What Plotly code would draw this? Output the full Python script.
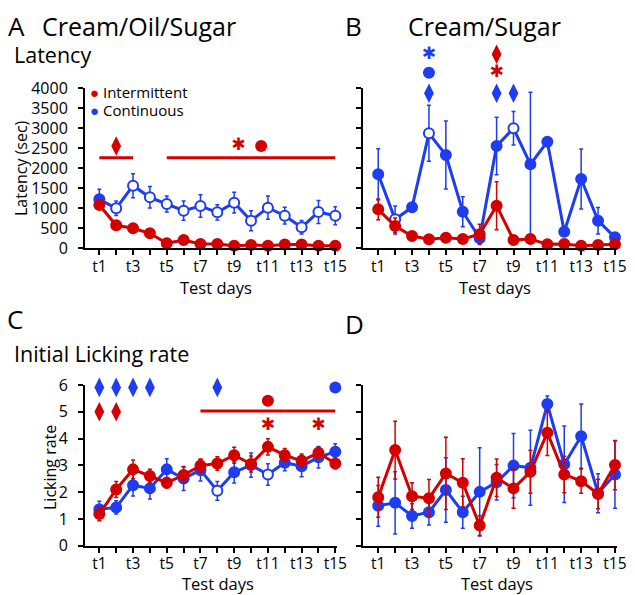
import plotly.graph_objects as go

W, H = 635, 595
PAD = 8  # the page body keeps its default 8px margin
FONT = "Open Sans"
RED = "#d40000"
BLUE = "#1e3cf0"

days = list(range(1, 16))
day_labels = [f"t{d}" if d % 2 else "" for d in days]

# Panel A - latency, cream/oil/sugar (sec)
a_int = [1075, 567, 492, 367, 117, 200, 100, 100, 58, 75, 58, 85, 85, 58, 58]
a_int_err = [80, 110, 100, 60, 30, 30, 20, 20, 20, 20, 20, 20, 20, 20, 20]
a_con = [1217, 992, 1558, 1267, 1100, 933, 1050, 892, 1133, 683, 1008, 808, 517, 900, 808]
a_con_err = [250, 180, 300, 270, 200, 240, 280, 190, 260, 250, 290, 210, 170, 290, 225]
a_con_open = [0, 1, 1, 1, 1, 1, 1, 1, 1, 1, 1, 1, 1, 1, 1]

# Panel B - latency, cream/sugar (sec)
b_int = [967, 550, 300, 217, 258, 225, 342, 1058, 200, 225, 92, 100, 58, 75, 92]
b_int_err = [260, 200, 40, 20, 30, 20, 250, 600, 30, 30, 20, 20, 20, 20, 20]
b_con = [1842, 717, 1017, 2867, 2325, 908, 242, 2550, 2992, 2092, 2658, 408, 1725, 683, 267]
b_con_err = [640, 330, 80, 700, 850, 375, 60, 720, 420, 1800, 0, 0, 750, 330, 0]
b_con_open = [0, 1, 0, 1, 0, 0, 0, 0, 1, 0, 0, 0, 0, 0, 0]

# Panel C - initial licking rate, cream/oil/sugar
c_int = [1.18, 2.10, 2.85, 2.60, 2.35, 2.64, 2.99, 3.07, 3.38, 3.05, 3.69, 3.38, 3.17, 3.47, 3.07]
c_int_err = [0.25, 0.3, 0.35, 0.25, 0.2, 0.3, 0.25, 0.25, 0.3, 0.3, 0.3, 0.25, 0.25, 0.2, 0.2]
c_con = [1.36, 1.43, 2.26, 2.14, 2.85, 2.51, 2.82, 2.05, 2.74, 3.01, 2.66, 3.10, 2.97, 3.30, 3.51]
c_con_err = [0.3, 0.25, 0.4, 0.4, 0.4, 0.45, 0.4, 0.35, 0.4, 0.45, 0.4, 0.3, 0.4, 0.4, 0.3]
c_con_open = [0, 0, 0, 0, 0, 0, 0, 1, 0, 0, 1, 0, 0, 0, 0]

# Panel D - initial licking rate, cream/sugar
d_int = [1.81, 3.57, 1.85, 1.77, 2.70, 2.35, 0.75, 2.54, 2.14, 2.76, 4.22, 2.66, 2.41, 1.93, 3.01]
d_int_err = [0.75, 1.08, 0.5, 0.7, 1.35, 0.9, 0.37, 0.7, 0.74, 0.8, 0.85, 0.68, 0.45, 0.55, 0.92]
d_con = [1.49, 1.60, 1.11, 1.25, 2.08, 1.25, 2.01, 2.37, 2.99, 2.91, 5.29, 3.04, 4.09, 1.96, 2.66]
d_con_err = [0.76, 1.16, 0.46, 0.48, 1.2, 0.6, 1.65, 0.66, 1.2, 1.4, 0.3, 1.43, 1.2, 0.73, 1.26]

# significance marks: (panel, kind, colour, days, level)
sig_marks = [
    ("a", "diamond", RED, [2], 2550),
    ("a", "star", RED, [9.25], 2550),
    ("a", "dot", RED, [10.6], 2550),
    ("b", "star", BLUE, [4], 4825),
    ("b", "dot", BLUE, [4], 4383),
    ("b", "diamond", BLUE, [4, 8, 9], 3867),
    ("b", "diamond", RED, [8], 4842),
    ("b", "star", RED, [8], 4383),
    ("c", "diamond", BLUE, [1, 2, 3, 4, 8], 5.91),
    ("c", "dot", BLUE, [15], 5.91),
    ("c", "diamond", RED, [1, 2], 5.0),
    ("c", "dot", RED, [11], 5.41),
    ("c", "star", RED, [11, 14], 4.47),
]
# significance bars: (panel, start day, end day, level)
sig_bars = [("a", 1, 3, 2258), ("a", 5, 15, 2258), ("c", 7, 15, 5.03)]

axis_ids = {"a": ("x", "y"), "b": ("x2", "y2"), "c": ("x3", "y3"), "d": ("x4", "y4")}
# the B marks sit above the 4000 tick, so they go on a taller hidden axis
mark_axes = {"a": ("x", "y"), "b": ("x2", "y5"), "c": ("x3", "y3")}


def add_series(fig, panel, vals, errs, color, open_flags=None):
    xa, ya = axis_ids[panel]
    fills = [("white" if o else color) for o in open_flags] if open_flags else color
    fig.add_trace(go.Scatter(
        x=days, y=vals, xaxis=xa, yaxis=ya, mode="lines+markers",
        line=dict(color=color, width=3),
        marker=dict(size=10, color=fills, line=dict(color=color, width=2)),
        error_y=dict(type="data", array=errs, color=color, thickness=1.5, width=2),
        cliponaxis=False, showlegend=False,
    ))


fig = go.Figure()

for panel, ints, ierr, cons, cerr, opens in [
    ("a", a_int, a_int_err, a_con, a_con_err, a_con_open),
    ("b", b_int, b_int_err, b_con, b_con_err, b_con_open),
    ("c", c_int, c_int_err, c_con, c_con_err, c_con_open),
    ("d", d_int, d_int_err, d_con, d_con_err, None),
]:
    add_series(fig, panel, cons, cerr, BLUE, opens)
    add_series(fig, panel, ints, ierr, RED)

for panel, x0, x1, level in sig_bars:
    xa, ya = mark_axes[panel]
    fig.add_trace(go.Scatter(x=[x0, x1], y=[level, level], xaxis=xa, yaxis=ya,
                             mode="lines", line=dict(color=RED, width=3),
                             cliponaxis=False, showlegend=False))

for panel, kind, color, xs, level in sig_marks:
    xa, ya = mark_axes[panel]
    ys = [level] * len(xs)
    if kind == "star":
        fig.add_trace(go.Scatter(x=xs, y=ys, xaxis=xa, yaxis=ya, mode="text",
                                 text=["✱"] * len(xs), textposition="middle center",
                                 textfont=dict(family="DejaVu Sans", size=17, color=color),
                                 cliponaxis=False, showlegend=False))
    else:
        sym = "diamond-tall" if kind == "diamond" else "circle"
        fig.add_trace(go.Scatter(x=xs, y=ys, xaxis=xa, yaxis=ya, mode="markers",
                                 marker=dict(symbol=sym, size=14 if kind == "diamond" else 12,
                                             color=color),
                                 cliponaxis=False, showlegend=False))

FW, FH = W - PAD, H - PAD


def px_x(p):
    return (p - PAD) / FW


def px_y(p):
    return 1 - (p - PAD) / FH


common = dict(showline=True, linecolor="black", linewidth=2, ticks="outside",
              ticklen=5, tickwidth=2, tickcolor="black", showgrid=False,
              zeroline=False, tickfont=dict(family=FONT, size=16, color="black"))

xdom_l = [px_x(85), px_x(337)]
xdom_r = [px_x(363), px_x(617)]
ydom_t = [px_y(248), px_y(88)]
ydom_b = [px_y(545.7), px_y(385)]

xcommon = dict(common, tickvals=days, ticktext=day_labels, ticklabelstandoff=-2,
               tickfont=dict(family=FONT, size=15.5, color="black"))

fig.update_layout(
    width=FW, height=FH, margin=dict(l=0, r=0, t=0, b=0, autoexpand=False),
    paper_bgcolor="white", plot_bgcolor="rgba(0,0,0,0)", showlegend=False,
    xaxis=dict(xcommon, domain=xdom_l, range=[0.15, 15.1], anchor="y"),
    yaxis=dict(common, domain=ydom_t, range=[0, 4000], dtick=500, anchor="x",
               ticklabelstandoff=7),
    xaxis2=dict(xcommon, domain=xdom_r, range=[0.1, 15.12], anchor="y2"),
    yaxis2=dict(common, domain=ydom_t, range=[0, 4000], dtick=500, anchor="x2",
                showticklabels=False),
    xaxis3=dict(xcommon, domain=xdom_l, range=[0.15, 15.1], anchor="y3"),
    yaxis3=dict(common, domain=ydom_b, range=[0, 6], dtick=1, anchor="x3",
                ticklabelstandoff=7),
    xaxis4=dict(xcommon, domain=xdom_r, range=[0.1, 15.12], anchor="y4"),
    yaxis4=dict(common, domain=ydom_b, range=[0, 6], dtick=1, anchor="x4",
                showticklabels=False),
    yaxis5=dict(domain=[px_y(248), px_y(30)], range=[0, (248 - 30) * 25],
                visible=False, anchor="x2"),
)


def label(text, x, y, size, xanchor="left", angle=0):
    fig.add_annotation(text=text, x=px_x(x), y=px_y(y), xref="paper", yref="paper",
                       xanchor=xanchor, yanchor="middle", showarrow=False,
                       textangle=angle, font=dict(family=FONT, size=size, color="black"))


label("A", 6, 26, 26)
label("Cream/Oil/Sugar", 40, 26, 25)
label("Latency", 12, 54, 21.5)
label("B", 343, 26, 26)
label("Cream/Sugar", 406, 26, 25)
label("C", 5, 319, 26)
label("Initial Licking rate", 12, 353, 21.5)
label("D", 343, 324, 26)

label("Latency (sec)", 21, 168, 16, xanchor="center", angle=-90)
label("Licking rate", 50, 468, 16, xanchor="center", angle=-90)
for cx, cy in [(216, 288), (495, 288), (218, 583), (497, 583)]:
    label("Test days", cx, cy, 16.5, xanchor="center")

label(f"<span style='color:{RED}'>●</span> Intermittent", 88, 92, 15)
label(f"<span style='color:{BLUE}'>●</span> Continuous", 88, 110, 15)

fig.write_html("out.html")
